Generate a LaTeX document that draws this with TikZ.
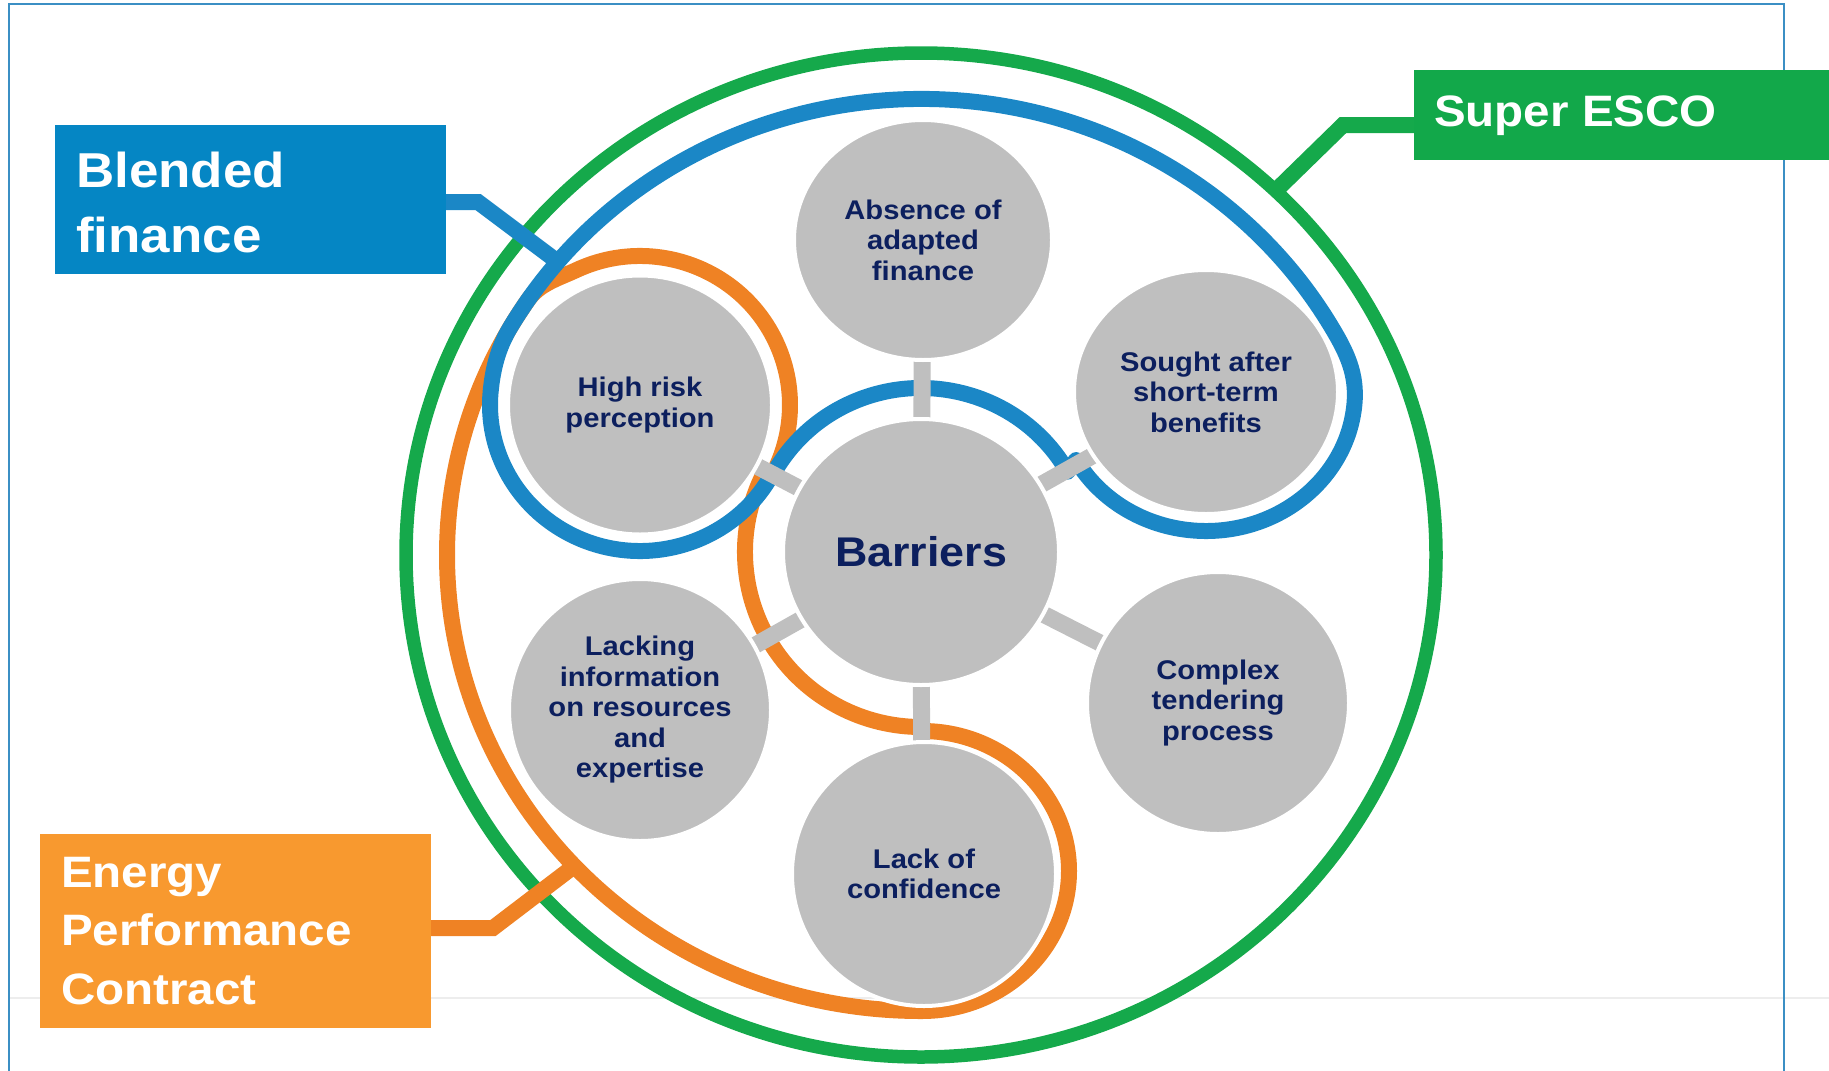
\documentclass[tikz,border=0pt]{standalone}
\usepackage{fontspec}
\setmainfont[FakeStretch=1.08]{Liberation Sans}
\usetikzlibrary{calc,shapes.geometric}
\definecolor{ringblue}{HTML}{1B87C6}
\definecolor{boxblue}{HTML}{0586C4}
\definecolor{ringgreen}{HTML}{15A94B}
\definecolor{boxgreen}{HTML}{12A84A}
\definecolor{ringorange}{HTML}{EF8224}
\definecolor{boxorange}{HTML}{F8992F}
\definecolor{cgray}{HTML}{BFBFBF}
\definecolor{navy}{HTML}{0C1F5E}
\definecolor{framecol}{HTML}{3B8FC4}
\begin{document}
\begin{tikzpicture}[x=1pt,y=-1pt,
  ringline/.style={line width=16pt, line join=round},
  conn/.style={line width=16pt, line join=miter},
  gbar/.style={line width=17pt, draw=cgray},
  gcirc/.style={ellipse, fill=cgray, draw=white, line width=4pt, inner sep=0pt},
  ctext/.style={text=navy, font=\bfseries\fontsize{27}{30.5}\selectfont, align=center},
  bigtext/.style={text=navy, font=\bfseries\fontsize{41.5}{45}\selectfont},
  boxfill/.style={minimum width=#1, inner sep=0pt, anchor=north west},
  btext/.style={text=white, font=\bfseries\fontsize{44}{58}\selectfont, anchor=base west, inner sep=0pt},
  btextbig/.style={text=white, font=\bfseries\fontsize{49}{65}\selectfont, anchor=base west, inner sep=0pt}
]
\useasboundingbox (0,0) rectangle (1829,1071);
% faint slide line and frame
\draw[draw=black!7, line width=2pt] (10,998) -- (1829,998);
\draw[framecol, line width=2.5pt] (9,1080) -- (9,4) -- (1784,4) -- (1784,1080);

% centres
\coordinate (E) at (921,555);
\coordinate (G) at (921,555);
\coordinate (cB) at (921,552);
\coordinate (cA) at (923,240);
\coordinate (cH) at (640,405);
\coordinate (cS) at (1206,392);
\coordinate (cL) at (640,710);
\coordinate (cC) at (1218,703);
\coordinate (cLC) at (922,871);

% green ring
\draw[ringgreen, line width=13.5pt] (G) ellipse [x radius=515, y radius=502];

% orange ring
\draw[ringorange, ringline]
  ($(E)+(90:474 and 456)$) arc[start angle=90, end angle=214, x radius=474, y radius=456]
  .. controls (539.5,283.6) and (558.5,278.4) .. ($(cH)+(245:150 and 149)$)
  arc[start angle=245, end angle=387.6, x radius=150, y radius=149]
  -- ($(cB)+(207.6:176 and 175)$) arc[start angle=207.6, end angle=90, x radius=176, y radius=175]
  -- ($(cLC)+(270:147 and 140)$) arc[start angle=270, end angle=450, x radius=147, y radius=140]
  -- cycle;

% blue ring
\draw[ringblue, ringline]
  ($(E)+(210:474 and 456)$) arc[start angle=210, end angle=330, x radius=474, y radius=456]
  .. controls (1347,352.7) and (1357.2,374.2) .. ($(cS)+(5:149 and 139)$)
  arc[start angle=5, end angle=150.7, x radius=149, y radius=139]
  -- ($(cB)+(330.7:168 and 164)$) arc[start angle=330.7, end angle=207.6, x radius=168, y radius=164]
  -- ($(cH)+(27.6:150 and 146)$) arc[start angle=27.6, end angle=185, x radius=150, y radius=146]
  .. controls (492.8,368.4) and (498.1,347.6) .. ($(E)+(210:474 and 456)$)
  -- cycle;

% connector bends and ends
\coordinate (bfc) at (478,202);
\coordinate (bfend) at ($(E)+(220:474 and 456)$);
\coordinate (sec) at (1343,125);
\coordinate (seend) at ($(G)+(313.5:515 and 502)$);
\coordinate (epc) at (493,928);
\coordinate (epend) at ($(E)+(137:474 and 456)$);

% gray bars
\foreach \t in {cA,cH,cS,cL,cC,cLC} \draw[gbar] (cB) -- (\t);

% circles
\node[gcirc, minimum width=276pt, minimum height=266pt] (B) at (cB) {};
\node[gcirc, minimum width=258pt, minimum height=240pt] (A) at (cA) {};
\node[gcirc, minimum width=264pt, minimum height=259pt] (H) at (cH) {};
\node[gcirc, minimum width=264pt, minimum height=244pt] (S) at (cS) {};
\node[gcirc, minimum width=262pt, minimum height=262pt] (L) at (cL) {};
\node[gcirc, minimum width=262pt, minimum height=262pt] (C) at (cC) {};
\node[gcirc, minimum width=264pt, minimum height=264pt] (LC) at (924,874) {};

\node[bigtext] at (B) {Barriers};
\node[ctext] at (A) {Absence of\\adapted\\finance};
\node[ctext] at (H) {High risk\\perception};
\node[ctext] at (S) {Sought after\\short-term\\benefits};
\node[ctext] at (L) {Lacking\\information\\on resources\\and\\expertise};
\node[ctext] at (C) {Complex\\tendering\\process};
\node[ctext] at (LC) {Lack of\\confidence};

% label boxes
\node[fill=boxblue, boxfill=391pt, minimum height=149pt] (bf) at (55,125) {};
\node[fill=boxgreen, boxfill=420pt, minimum height=90pt] (se) at (1414,70) {};
\node[fill=boxorange, boxfill=391pt, minimum height=194pt] (ep) at (40,834) {};

% connectors (start inside the box, box refilled on top)
\draw[conn, ringblue] (bf.center |- bfc) -- (bfc) -- (bfend);
\draw[conn, ringgreen] (se.center |- sec) -- (sec) -- (seend);
\draw[conn, ringorange] (ep.center |- epc) -- (epc) -- (epend);
\fill[boxblue] (bf.north west) rectangle (bf.south east);
\fill[boxgreen] (se.north west) rectangle (se.south east);
\fill[boxorange] (ep.north west) rectangle (ep.south east);

\node[btextbig] at (76,187) {Blended};
\node[btextbig] at (76,252) {finance};
\node[btext] at (1434,126) {Super ESCO};
\node[btext] at (61,887) {Energy};
\node[btext] at (61,945) {Performance};
\node[btext] at (61,1004) {Contract};
\end{tikzpicture}
\end{document}
